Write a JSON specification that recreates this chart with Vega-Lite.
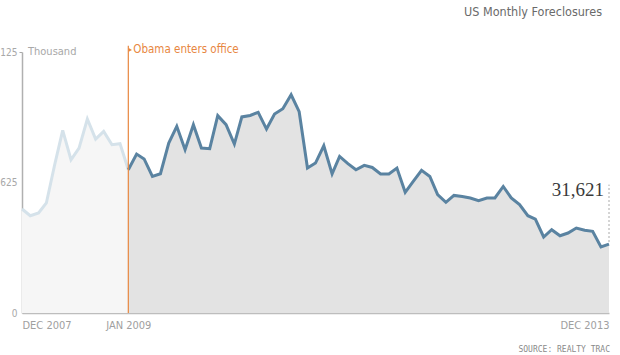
{
  "$schema": "https://vega.github.io/schema/vega-lite/v6.json",
  "width": 587,
  "height": 261,
  "autosize": "none",
  "padding": {"left": 22, "top": 52, "right": 11, "bottom": 42},
  "background": "white",
  "title": {
    "text": "US Monthly Foreclosures",
    "anchor": "end",
    "dx": -13,
    "offset": 25,
    "font": "DejaVu Sans Condensed, Roboto, sans-serif",
    "fontSize": 12.5,
    "fontWeight": "normal",
    "color": "#6a6a6a"
  },
  "config": {"view": {"stroke": null}, "font": "DejaVu Sans Condensed, Roboto, sans-serif"},
  "datasets": {
    "fc": [
      {"date": "2007-12-01", "value": 49.8},
      {"date": "2008-01-01", "value": 46.6},
      {"date": "2008-02-01", "value": 47.9},
      {"date": "2008-03-01", "value": 52.7},
      {"date": "2008-04-01", "value": 71.0},
      {"date": "2008-05-01", "value": 87.5},
      {"date": "2008-06-01", "value": 73.4},
      {"date": "2008-07-01", "value": 79.0},
      {"date": "2008-08-01", "value": 92.9},
      {"date": "2008-09-01", "value": 83.3},
      {"date": "2008-10-01", "value": 87.0},
      {"date": "2008-11-01", "value": 80.6},
      {"date": "2008-12-01", "value": 81.1},
      {"date": "2009-01-01", "value": 68.6},
      {"date": "2009-02-01", "value": 76.1},
      {"date": "2009-03-01", "value": 73.8},
      {"date": "2009-04-01", "value": 65.4},
      {"date": "2009-05-01", "value": 66.7},
      {"date": "2009-06-01", "value": 81.4},
      {"date": "2009-07-01", "value": 89.4},
      {"date": "2009-08-01", "value": 78.2},
      {"date": "2009-09-01", "value": 90.2},
      {"date": "2009-10-01", "value": 79.0},
      {"date": "2009-11-01", "value": 78.7},
      {"date": "2009-12-01", "value": 94.5},
      {"date": "2010-01-01", "value": 90.2},
      {"date": "2010-02-01", "value": 80.9},
      {"date": "2010-03-01", "value": 93.9},
      {"date": "2010-04-01", "value": 94.6},
      {"date": "2010-05-01", "value": 96.1},
      {"date": "2010-06-01", "value": 88.1},
      {"date": "2010-07-01", "value": 95.3},
      {"date": "2010-08-01", "value": 97.8},
      {"date": "2010-09-01", "value": 104.5},
      {"date": "2010-10-01", "value": 96.4},
      {"date": "2010-11-01", "value": 69.4},
      {"date": "2010-12-01", "value": 71.8},
      {"date": "2011-01-01", "value": 80.1},
      {"date": "2011-02-01", "value": 66.6},
      {"date": "2011-03-01", "value": 75.0},
      {"date": "2011-04-01", "value": 71.5},
      {"date": "2011-05-01", "value": 68.6},
      {"date": "2011-06-01", "value": 70.7},
      {"date": "2011-07-01", "value": 69.7},
      {"date": "2011-08-01", "value": 66.6},
      {"date": "2011-09-01", "value": 66.6},
      {"date": "2011-10-01", "value": 69.4},
      {"date": "2011-11-01", "value": 57.8},
      {"date": "2011-12-01", "value": 63.0},
      {"date": "2012-01-01", "value": 68.3},
      {"date": "2012-02-01", "value": 65.4},
      {"date": "2012-03-01", "value": 56.7},
      {"date": "2012-04-01", "value": 53.0},
      {"date": "2012-05-01", "value": 56.3},
      {"date": "2012-06-01", "value": 55.8},
      {"date": "2012-07-01", "value": 55.1},
      {"date": "2012-08-01", "value": 53.8},
      {"date": "2012-09-01", "value": 55.1},
      {"date": "2012-10-01", "value": 55.1},
      {"date": "2012-11-01", "value": 60.6},
      {"date": "2012-12-01", "value": 55.1},
      {"date": "2013-01-01", "value": 51.9},
      {"date": "2013-02-01", "value": 46.6},
      {"date": "2013-03-01", "value": 45.0},
      {"date": "2013-04-01", "value": 36.4},
      {"date": "2013-05-01", "value": 39.9},
      {"date": "2013-06-01", "value": 37.0},
      {"date": "2013-07-01", "value": 38.3},
      {"date": "2013-08-01", "value": 40.7},
      {"date": "2013-09-01", "value": 39.6},
      {"date": "2013-10-01", "value": 39.1},
      {"date": "2013-11-01", "value": 31.6},
      {"date": "2013-12-01", "value": 33.0}
    ],
    "notes": [
      {"date": "2009-01-01", "kind": "obama", "label": "Obama enters office", "lo": 0, "hi": 128, "at": 126},
      {"date": "2007-12-01", "kind": "unit", "label": "Thousand", "lo": 125, "hi": 125, "at": 125},
      {"date": "2013-12-01", "kind": "last", "label": "31,621", "lo": 34, "hi": 61.5, "at": 59},
      {"date": "2013-12-01", "kind": "source", "label": "SOURCE: REALTY TRAC", "lo": -17.5, "hi": -17.5, "at": -17.5}
    ]
  },
  "layer": [
    {
      "data": {"name": "fc"},
      "transform": [{"filter": "toDate(datum.date) <= utc(2009, 0, 1)"}],
      "mark": {"type": "area", "color": "#f6f6f6"},
      "encoding": {
        "x": {
          "field": "date",
          "type": "temporal",
          "scale": {"type": "utc", "domain": [{"year": 2007, "month": 12, "date": 1, "utc": true}, {"year": 2013, "month": 12, "date": 1, "utc": true}]},
          "axis": {
            "title": null,
            "grid": false,
            "ticks": false,
            "values": [
              {"year": 2007, "month": 12, "date": 1, "utc": true},
              {"year": 2009, "month": 1, "date": 1, "utc": true},
              {"year": 2013, "month": 12, "date": 1, "utc": true}
            ],
            "labelExpr": "upper(utcFormat(datum.value, '%b %Y'))",
            "labelFlush": true,
            "labelPadding": 6,
            "labelFontSize": 11,
            "labelColor": "#a0a0a0",
            "domainColor": "#bdbdbd",
            "domainWidth": 1.5
          }
        },
        "y": {
          "field": "value",
          "type": "quantitative",
          "scale": {"domain": [0, 125], "nice": false},
          "axis": {
            "title": null,
            "grid": false,
            "values": [0, 62.5, 125],
            "labelExpr": "datum.value == 62.5 ? '625' : datum.label",
            "tickSize": 3,
            "tickColor": "#a8a8a8",
            "tickOpacity": {"condition": {"test": "datum.value == 125", "value": 1}, "value": 0},
            "labelPadding": 2,
            "labelFontSize": 10,
            "labelColor": "#a8a8a8",
            "domainColor": "#b0b0b0",
            "domainWidth": 1.5
          }
        }
      }
    },
    {
      "data": {"name": "fc"},
      "transform": [{"filter": "toDate(datum.date) >= utc(2009, 0, 1)"}],
      "mark": {"type": "area", "color": "#e3e3e3"},
      "encoding": {
        "x": {"field": "date", "type": "temporal"},
        "y": {"field": "value", "type": "quantitative"}
      }
    },
    {
      "data": {"name": "fc"},
      "transform": [{"filter": "toDate(datum.date) <= utc(2009, 0, 1)"}],
      "mark": {"type": "line", "color": "#d5e2ea", "strokeWidth": 3},
      "encoding": {
        "x": {"field": "date", "type": "temporal"},
        "y": {"field": "value", "type": "quantitative"}
      }
    },
    {
      "data": {"name": "fc"},
      "transform": [{"filter": "toDate(datum.date) >= utc(2009, 0, 1)"}],
      "mark": {"type": "line", "color": "#5a83a1", "strokeWidth": 3},
      "encoding": {
        "x": {"field": "date", "type": "temporal"},
        "y": {"field": "value", "type": "quantitative"}
      }
    },
    {
      "data": {"name": "notes"},
      "transform": [{"filter": "datum.kind == 'obama'"}],
      "mark": {"type": "rule", "color": "#e8873f", "strokeWidth": 1.2, "clip": false},
      "encoding": {
        "x": {"field": "date", "type": "temporal"},
        "y": {"field": "lo", "type": "quantitative"},
        "y2": {"field": "hi"}
      }
    },
    {
      "data": {"name": "notes"},
      "transform": [{"filter": "datum.kind == 'obama'"}],
      "mark": {"type": "point", "shape": "triangle-right", "filled": true, "color": "#e8873f", "size": 14, "opacity": 1, "xOffset": 2},
      "encoding": {
        "x": {"field": "date", "type": "temporal"},
        "y": {"field": "at", "type": "quantitative"}
      }
    },
    {
      "data": {"name": "notes"},
      "transform": [{"filter": "datum.kind == 'obama'"}],
      "mark": {"type": "text", "align": "left", "baseline": "middle", "dx": 5, "fontSize": 11.5, "color": "#e8873f"},
      "encoding": {
        "x": {"field": "date", "type": "temporal"},
        "y": {"field": "at", "type": "quantitative"},
        "text": {"field": "label"}
      }
    },
    {
      "data": {"name": "notes"},
      "transform": [{"filter": "datum.kind == 'unit'"}],
      "mark": {"type": "text", "align": "left", "baseline": "middle", "dx": 6, "fontSize": 11, "color": "#a8a8a8"},
      "encoding": {
        "x": {"field": "date", "type": "temporal"},
        "y": {"field": "at", "type": "quantitative"},
        "text": {"field": "label"}
      }
    },
    {
      "data": {"name": "notes"},
      "transform": [{"filter": "datum.kind == 'last'"}],
      "mark": {"type": "rule", "color": "#aaaaaa", "strokeDash": [2, 2], "strokeWidth": 1},
      "encoding": {
        "x": {"field": "date", "type": "temporal"},
        "y": {"field": "lo", "type": "quantitative"},
        "y2": {"field": "hi"}
      }
    },
    {
      "data": {"name": "notes"},
      "transform": [{"filter": "datum.kind == 'last'"}],
      "mark": {"type": "text", "align": "right", "baseline": "middle", "dx": -5, "font": "Liberation Serif", "fontSize": 19, "color": "#3a3a3a"},
      "encoding": {
        "x": {"field": "date", "type": "temporal"},
        "y": {"field": "at", "type": "quantitative"},
        "text": {"field": "label"}
      }
    },
    {
      "data": {"name": "notes"},
      "transform": [{"filter": "datum.kind == 'source'"}],
      "mark": {"type": "text", "align": "right", "baseline": "middle", "dx": 1, "font": "DejaVu Sans Mono", "fontSize": 8, "color": "#8a8a8a", "clip": false},
      "encoding": {
        "x": {"field": "date", "type": "temporal"},
        "y": {"field": "at", "type": "quantitative"},
        "text": {"field": "label"}
      }
    }
  ]
}
